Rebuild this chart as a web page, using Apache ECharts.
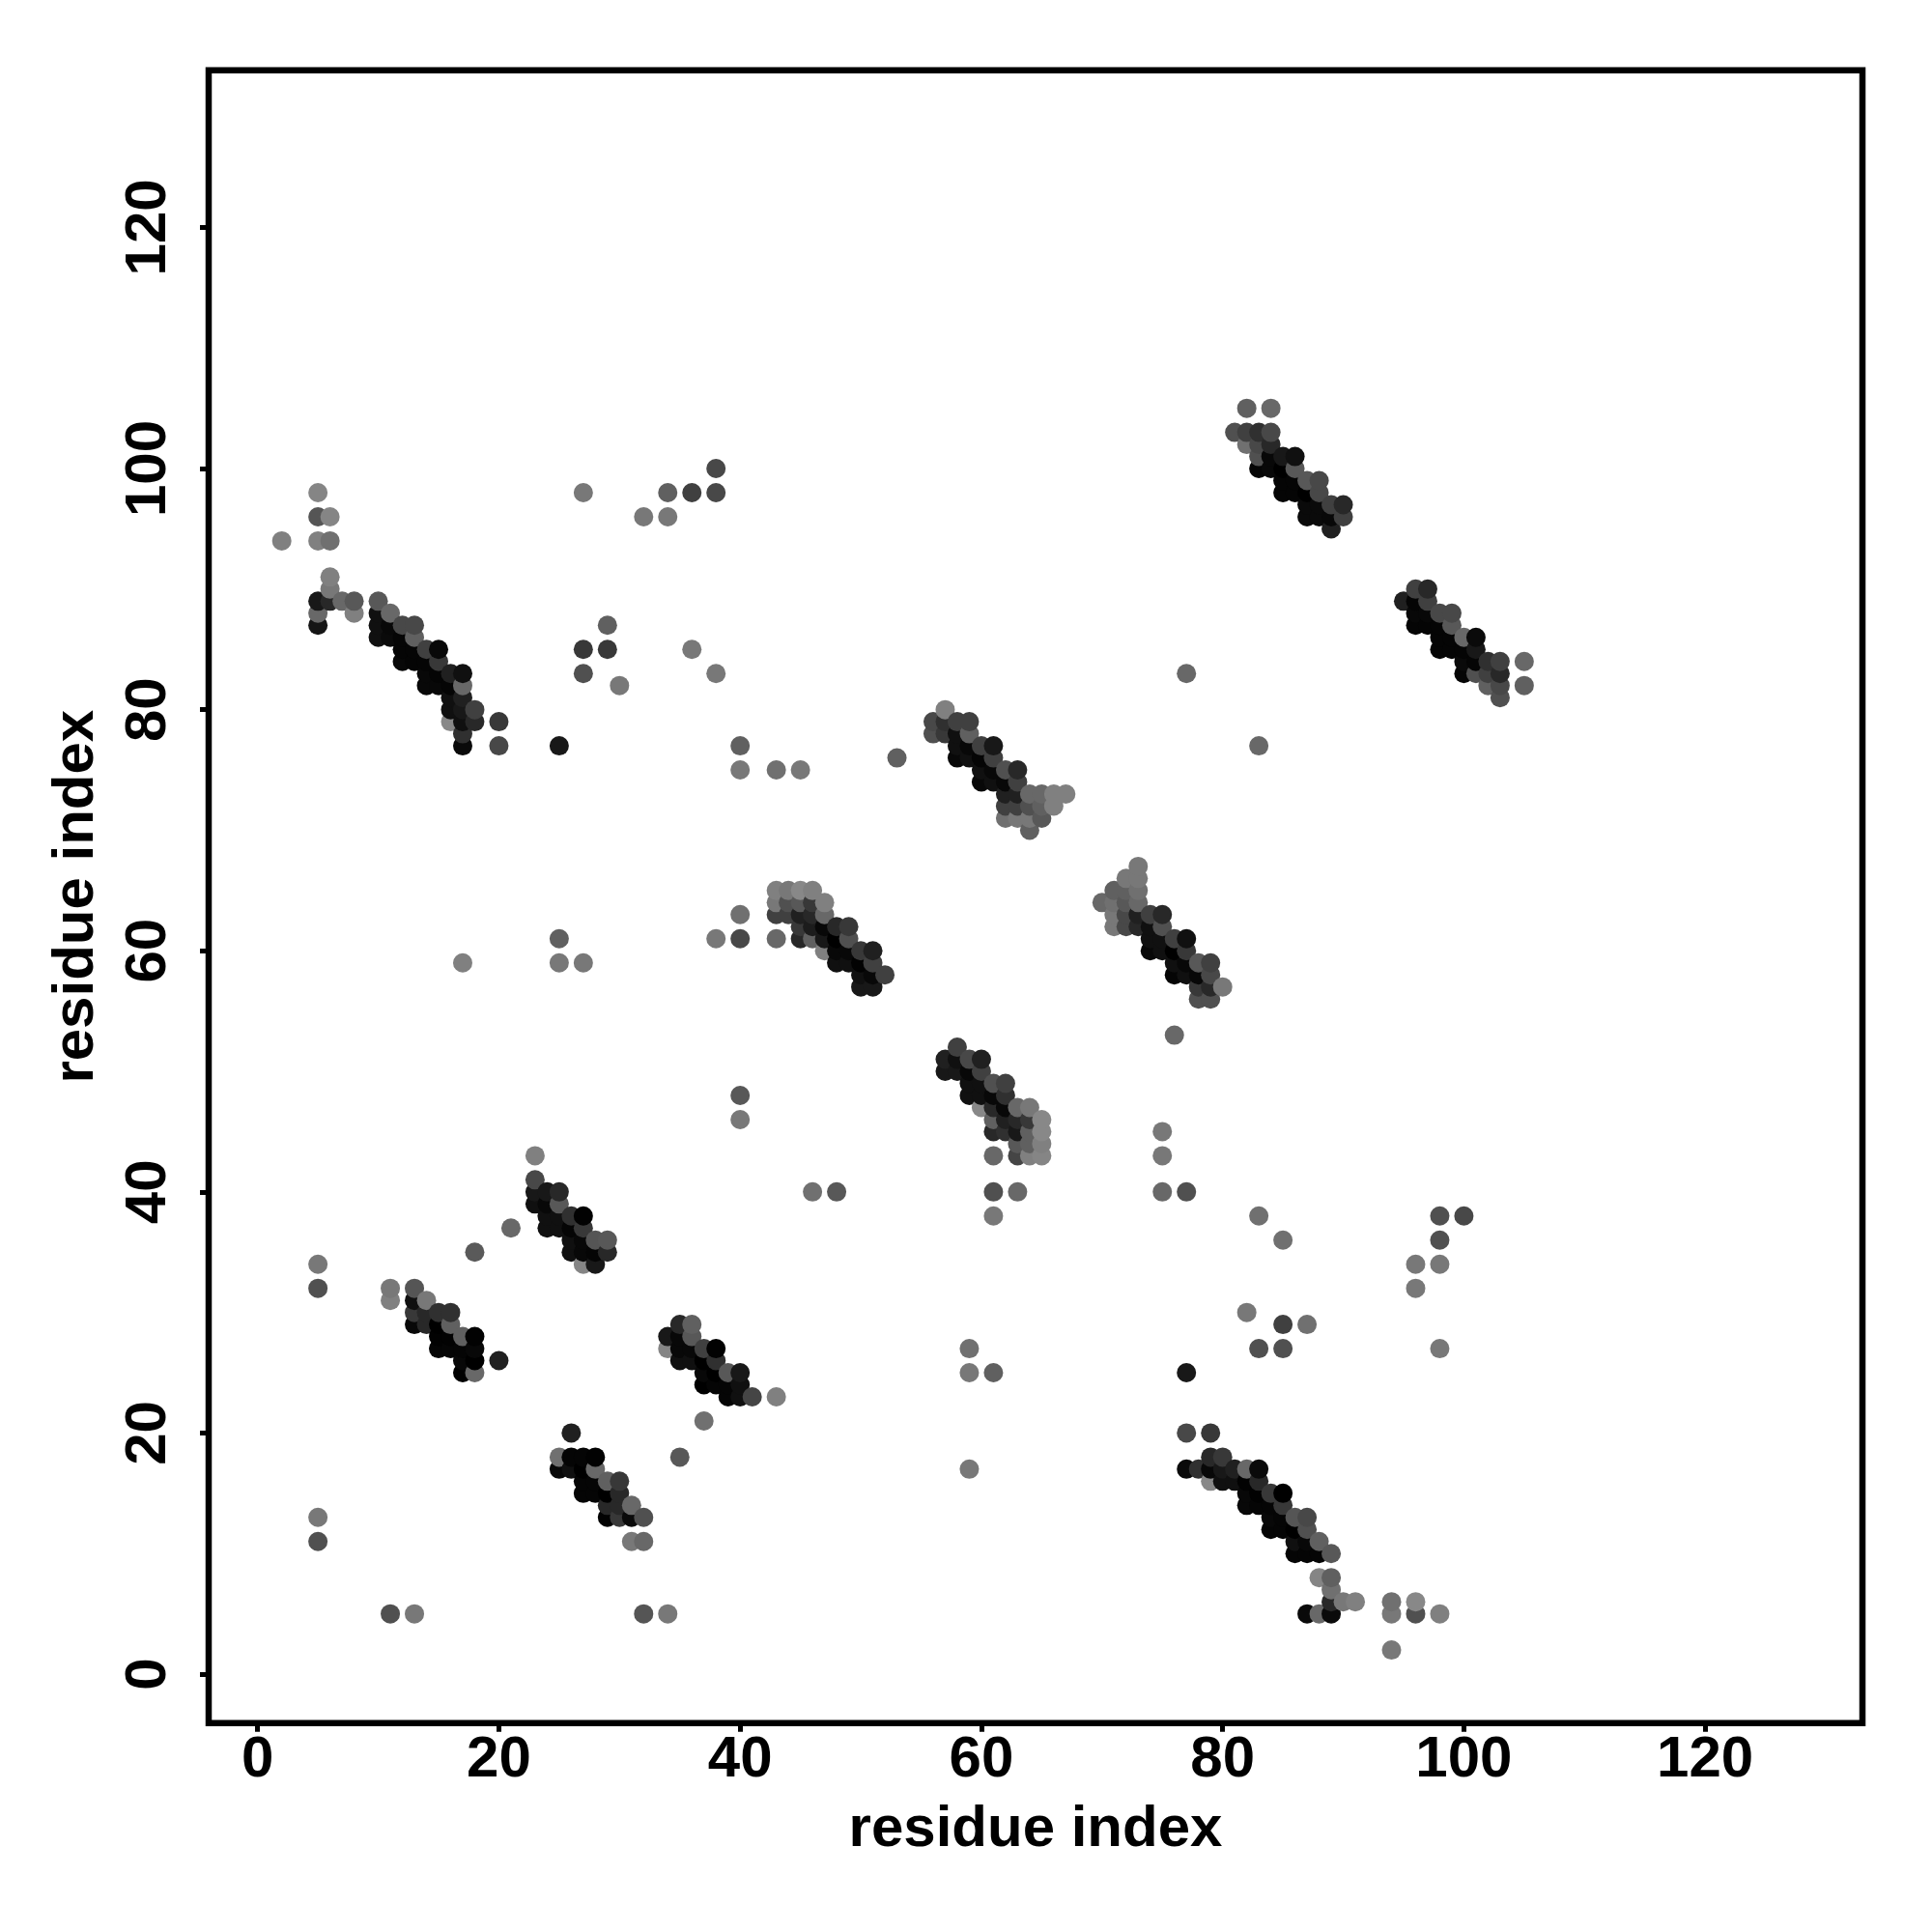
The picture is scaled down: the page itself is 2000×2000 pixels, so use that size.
<!DOCTYPE html>
<html><head><meta charset="utf-8">
<style>html,body{margin:0;padding:0;background:#fff}#c{width:2000px;height:2000px}</style>
<script src="https://cdn.jsdelivr.net/npm/echarts@6/dist/echarts.min.js"></script>
</head><body><div id="c"></div>
<script>
// Each point: [residue i, residue j, grey level]
const tickValues = [0,20,40,60,80,100,120];
const axisTitle = "residue index";
const isolated = [
[2,94,0x80],[5,98,0x85],[5,96,0x55],[6,96,0x85],[5,94,0x80],[6,94,0x70],[6,91,0x80],[6,90,0x78],
[5,89,0x18],[6,89,0x28],[7,89,0x68],[8,89,0x58],[8,88,0x80],[5,88,0x68],[5,87,0x15],
[20,79,0x38],[20,77,0x48],[21,37,0x68],[18,35,0x5a],[20,26,0x20],[11,32,0x78],[11,31,0x80],
[26,20,0x20],[37,21,0x70],[35,18,0x58],[43,23,0x80],[31,11,0x78],[32,11,0x68],[32,5,0x55],[34,5,0x78],
[77,20,0x48],[79,20,0x38],[88,8,0x85],[89,8,0x60],[89,7,0x70],[89,6,0x28],[90,6,0x78],[91,6,0x80],
[87,5,0x0a],[88,5,0x68],[89,5,0x0a],[94,6,0x70],[96,6,0x88],[94,5,0x78],[96,5,0x50],[98,5,0x80],[94,2,0x78],
[27,98,0x78],[32,96,0x78],[34,98,0x60],[34,96,0x78],[36,98,0x40],[38,100,0x48],[38,98,0x48],
[29,87,0x60],[27,85,0x38],[29,85,0x38],[27,83,0x50],[30,82,0x78],[36,85,0x78],[38,83,0x78],
[25,77,0x18],[40,77,0x60],[40,75,0x78],[43,75,0x70],[45,75,0x78],[53,76,0x60],[77,83,0x68],[83,77,0x68],
[40,63,0x70],[38,61,0x78],[40,61,0x48],[43,61,0x68],[25,61,0x60],[25,59,0x78],[27,59,0x78],[17,59,0x80],
[40,48,0x58],[40,46,0x78],[76,53,0x68],[75,45,0x78],[75,43,0x78],[75,40,0x68],[77,40,0x50],[61,43,0x68],
[61,40,0x50],[63,40,0x68],[61,38,0x78],[46,40,0x70],[48,40,0x58],[83,38,0x70],[85,36,0x70],[98,38,0x50],
[100,38,0x48],[98,36,0x50],[96,34,0x78],[98,34,0x78],[96,32,0x78],[82,30,0x78],[85,29,0x40],[87,29,0x70],
[83,27,0x50],[85,27,0x50],[98,27,0x78],[59,27,0x70],[59,25,0x78],[61,25,0x60],[77,25,0x18],[59,17,0x78],
[5,34,0x78],[5,32,0x50],[5,13,0x78],[5,11,0x50],[11,5,0x50],[13,5,0x78],[105,84,0x68],[105,82,0x60]
];
const helixA = [
[10,89,0x58],[11,88,0x68],[10,88,0x10],[10,87,0x10],[10,86,0x10],[11,87,0x08],[11,86,0x0a],[12,87,0x48],[13,87,0x48],
[12,86,0x05],[13,86,0x60],[12,85,0x05],[12,84,0x08],[13,85,0x05],[13,84,0x05],[14,85,0x40],[14,84,0x05],[14,83,0x08],
[15,85,0x08],[15,84,0x38],[15,83,0x05],[14,82,0x08],[15,82,0x08],[16,83,0x20],[16,82,0x05],[16,81,0x10],[16,80,0x10],
[17,83,0x10],[17,82,0x68],[17,81,0x20],[17,80,0x18],[18,80,0x40],[18,79,0x28],[17,79,0x10],[16,79,0x88],[17,78,0x30],[17,77,0x0a]
];
const helixB = [
[23,43,0x80],[23,41,0x48],[23,40,0x18],[24,40,0x18],[25,40,0x28],[23,39,0x10],[24,39,0x08],[25,39,0x58],[24,38,0x10],
[25,38,0x10],[26,38,0x30],[27,38,0x02],[24,37,0x10],[25,37,0x10],[26,37,0x05],[27,37,0x38],[26,36,0x10],[27,36,0x08],
[28,36,0x55],[29,36,0x58],[26,35,0x10],[27,35,0x08],[28,35,0x05],[29,35,0x28],[27,34,0x85],[28,34,0x18]
];
const helixC = [
[13,32,0x55],[14,31,0x78],[13,31,0x10],[13,30,0x38],[14,30,0x28],[15,30,0x30],[16,30,0x30],[13,29,0x08],[14,29,0x28],
[15,29,0x00],[16,29,0x60],[15,28,0x02],[16,28,0x02],[17,28,0x60],[18,28,0x02],[15,27,0x05],[16,27,0x05],[17,27,0x05],
[18,27,0x08],[17,26,0x08],[18,26,0x00],[17,25,0x00],[18,25,0x68]
];
const helixD = [
[34,28,0x18],[34,27,0x85],[35,29,0x28],[36,29,0x60],[36,28,0x58],[35,28,0x08],[35,27,0x08],[36,27,0x08],[37,27,0x40],
[38,27,0x02],[35,26,0x10],[36,26,0x10],[37,26,0x00],[38,26,0x30],[37,25,0x08],[38,25,0x00],[39,25,0x58],[40,25,0x18],
[37,24,0x00],[38,24,0x05],[39,24,0x05],[40,24,0x10],[39,23,0x05],[40,23,0x10],[41,23,0x45]
];
const helixE = [
[25,18,0x70],[26,18,0x05],[27,18,0x05],[28,18,0x02],[25,17,0x08],[26,17,0x10],[27,17,0x00],[28,17,0x68],[27,16,0x05],
[28,16,0x05],[29,16,0x60],[30,16,0x38],[27,15,0x05],[28,15,0x05],[29,15,0x00],[30,15,0x28],[29,14,0x28],[30,14,0x28],
[31,14,0x68],[29,13,0x02],[30,13,0x38],[31,13,0x0a],[32,13,0x50]
];
const helixF = [
[79,18,0x28],[80,18,0x38],[77,17,0x0a],[78,17,0x30],[79,17,0x08],[80,17,0x18],[81,17,0x20],[82,17,0x68],[83,17,0x0a],
[79,16,0x88],[80,16,0x10],[81,16,0x10],[82,16,0x02],[83,16,0x28],[82,15,0x08],[83,15,0x02],[84,15,0x38],[85,15,0x00],
[82,14,0x08],[83,14,0x05],[84,14,0x05],[85,14,0x38],[84,13,0x08],[85,13,0x05],[86,13,0x55],[87,13,0x48],[84,12,0x05],
[85,12,0x05],[86,12,0x00],[87,12,0x50],[86,11,0x10],[87,11,0x08],[88,11,0x60],[86,10,0x05],[87,10,0x05],[88,10,0x05],[89,10,0x58]
];
const helixG = [
[43,65,0x80],[44,65,0x78],[45,65,0x88],[46,65,0x80],[47,64,0x80],[43,64,0x78],[44,64,0x50],[45,64,0x58],[46,64,0x38],
[43,63,0x40],[44,63,0x40],[45,63,0x20],[46,63,0x28],[47,63,0x68],[45,62,0x38],[46,62,0x1c],[47,62,0x08],[48,62,0x28],
[49,62,0x38],[45,61,0x28],[46,61,0x60],[47,61,0x18],[48,61,0x00],[49,61,0x50],[47,60,0x80],[48,60,0x08],[49,60,0x08],
[50,60,0x38],[51,60,0x20],[48,59,0x10],[49,59,0x10],[50,59,0x02],[51,59,0x40],[50,58,0x10],[51,58,0x08],[52,58,0x40],
[50,57,0x18],[51,57,0x18]
];
const helixH = [
[56,79,0x48],[57,80,0x80],[57,79,0x30],[58,79,0x40],[59,79,0x40],[56,78,0x50],[57,78,0x38],[58,78,0x10],[59,78,0x60],
[58,77,0x10],[59,77,0x08],[60,77,0x40],[61,77,0x18],[58,76,0x08],[59,76,0x10],[60,76,0x05],[61,76,0x40],[60,75,0x10],
[61,75,0x08],[62,75,0x50],[63,75,0x28],[60,74,0x08],[61,74,0x10],[62,74,0x08],[63,74,0x40],[62,73,0x20],[63,73,0x20],
[64,73,0x68],[65,73,0x68],[66,73,0x80],[67,73,0x80],[62,72,0x40],[63,72,0x40],[64,72,0x50],[65,72,0x60],[66,72,0x80],
[62,71,0x70],[63,71,0x78],[64,71,0x78],[65,71,0x58],[64,70,0x60]
];
const helixI = [
[58,52,0x40],[57,51,0x20],[58,51,0x10],[59,51,0x48],[60,51,0x20],[57,50,0x18],[58,50,0x18],[59,50,0x08],[60,50,0x40],
[59,49,0x10],[60,49,0x10],[61,49,0x50],[62,49,0x40],[59,48,0x10],[60,48,0x10],[61,48,0x08],[62,48,0x30],[60,47,0x88],
[61,47,0x28],[62,47,0x08],[63,47,0x68],[64,47,0x78],[61,46,0x60],[62,46,0x20],[63,46,0x28],[64,46,0x38],[65,46,0x88],
[61,45,0x28],[62,45,0x30],[63,45,0x18],[64,45,0x60],[65,45,0x88],[63,44,0x58],[64,44,0x60],[65,44,0x80],[63,43,0x45],
[64,43,0x80],[65,43,0x85]
];
const helixJ = [
[73,67,0x78],[72,66,0x78],[73,66,0x78],[71,65,0x60],[72,65,0x60],[73,65,0x70],[70,64,0x68],[71,64,0x70],[72,64,0x58],
[73,64,0x68],[71,63,0x78],[72,63,0x48],[73,63,0x20],[74,63,0x40],[75,63,0x28],[71,62,0x78],[72,62,0x48],[73,62,0x28],
[74,62,0x10],[75,62,0x50],[74,61,0x10],[75,61,0x10],[76,61,0x40],[77,61,0x10],[74,60,0x08],[75,60,0x10],[76,60,0x00],
[77,60,0x38],[76,59,0x10],[77,59,0x08],[78,59,0x58],[79,59,0x40],[76,58,0x05],[77,58,0x10],[78,58,0x08],[79,58,0x48],
[78,57,0x38],[79,57,0x28],[80,57,0x78],[78,56,0x50],[79,56,0x50]
];
const helixK = [
[82,105,0x60],[84,105,0x68],[81,103,0x50],[82,103,0x40],[83,103,0x30],[84,103,0x48],[82,102,0x70],[83,102,0x48],
[84,102,0x28],[83,101,0x50],[84,101,0x08],[85,101,0x18],[86,101,0x10],[83,100,0x05],[84,100,0x08],[85,100,0x00],
[86,100,0x58],[85,99,0x05],[86,99,0x05],[87,99,0x58],[88,99,0x48],[85,98,0x05],[86,98,0x05],[87,98,0x00],[88,98,0x48],
[87,97,0x0a],[88,97,0x0a],[89,97,0x40],[90,97,0x28],[87,96,0x0a],[88,96,0x0a],[89,96,0x08],[90,96,0x40],[89,95,0x20]
];
const helixL = [
[95,89,0x20],[96,90,0x40],[97,90,0x28],[96,89,0x05],[97,89,0x40],[96,88,0x08],[97,88,0x08],[98,88,0x48],[99,88,0x48],
[96,87,0x05],[97,87,0x05],[98,87,0x05],[99,87,0x58],[98,86,0x05],[99,86,0x05],[100,86,0x68],[101,86,0x0a],[98,85,0x05],
[99,85,0x05],[100,85,0x05],[101,85,0x18],[100,84,0x0a],[101,84,0x05],[102,84,0x30],[103,84,0x40],[100,83,0x05],
[101,83,0x50],[102,83,0x40],[103,83,0x28],[102,82,0x60],[103,82,0x48],[103,81,0x50]
];
const points = [].concat(isolated,helixA,helixB,helixC,helixD,helixE,helixF,helixG,helixH,helixI,helixJ,helixK,helixL)
  .sort((a,b)=>a[0]-b[0]||a[1]-b[1]);

const font = '"Liberation Sans"';
function axis(isY){
  return {
    type:'value', min:-4.06, max:133.04,
    name:axisTitle, nameLocation:'middle', nameGap:isY?107:81, nameMoveOverlap:false,
    nameTextStyle:{fontFamily:font,fontWeight:'bold',fontSize:60,color:'#000'},
    axisLine:{show:false,onZero:false}, splitLine:{show:false},
    axisTick:{show:true,length:9,customValues:tickValues,lineStyle:{color:'#000',width:5}},
    axisLabel:{show:true,customValues:tickValues,fontFamily:font,fontWeight:'bold',fontSize:60,color:'#000',
      rotate:isY?90:0,margin:isY?32:9}
  };
}
const chart = echarts.init(document.getElementById('c'),null,{renderer:'canvas'});
chart.setOption({
  animation:false, backgroundColor:'#fff',
  grid:{left:216,top:72.7,width:1712,height:1711,show:true,borderWidth:6.5,borderColor:'#000',backgroundColor:'transparent'},
  xAxis:axis(false), yAxis:axis(true),
  series:[{type:'scatter',data:points,symbol:'circle',symbolSize:20,silent:true,
    large:false,
    encode:{x:0,y:1},
    itemStyle:{opacity:1,color:p=>{const g=p.data[2];return 'rgb('+g+','+g+','+g+')';}}
  }]
});
</script></body></html>
